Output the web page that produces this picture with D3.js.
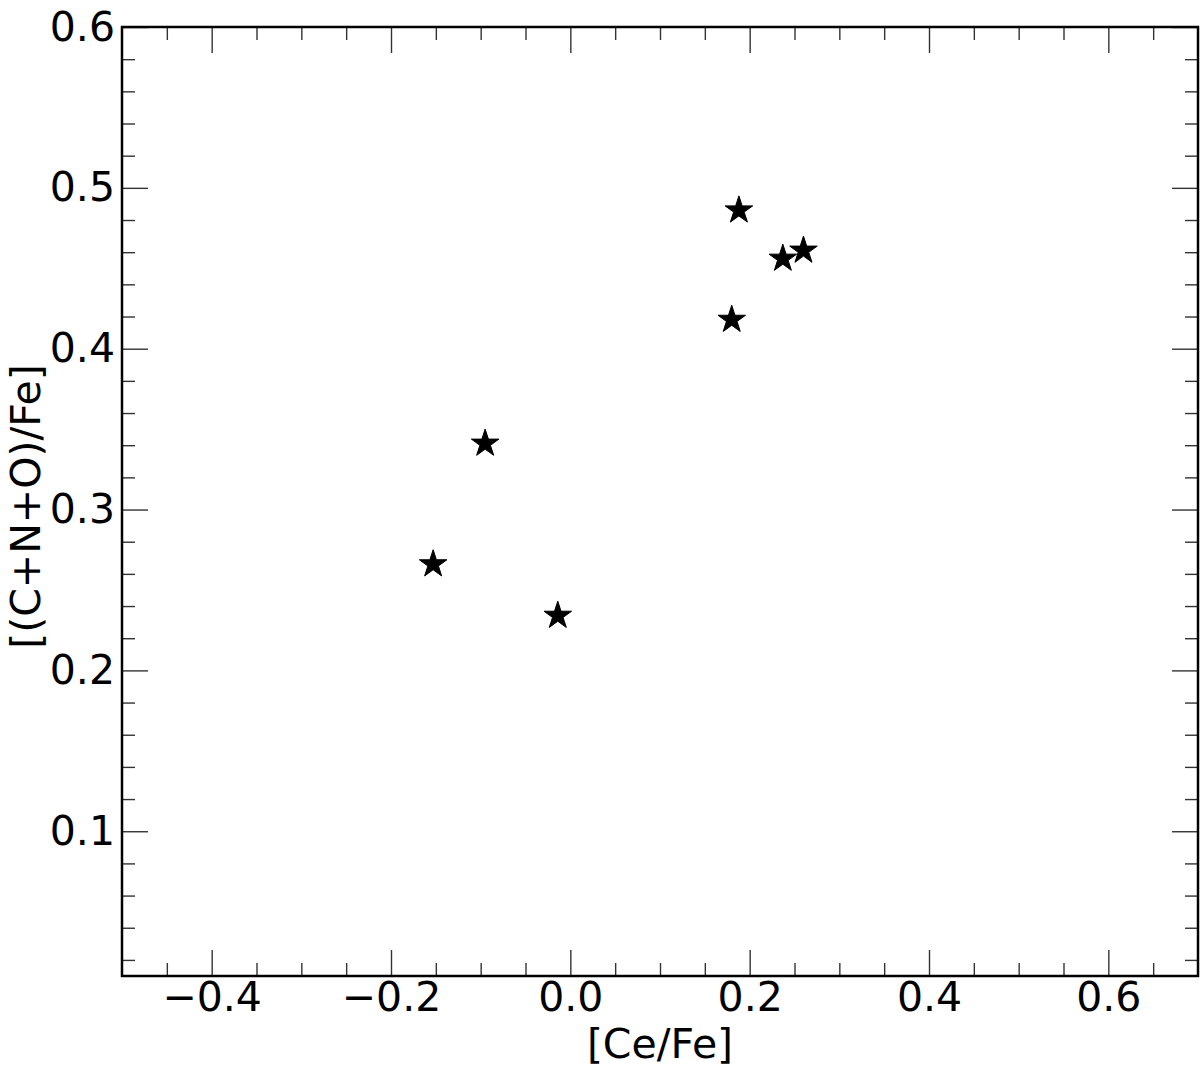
<!DOCTYPE html>
<html>
<head>
<meta charset="utf-8">
<script src="https://cdn.jsdelivr.net/npm/d3@7"></script>
<style>
  html, body { margin: 0; padding: 0; background: #fff; }
  svg { display: block; }
  text { font-family: "DejaVu Sans", sans-serif; fill: #000; }
</style>
</head>
<body>
<svg id="chart" width="1200" height="1071"></svg>
<script>
// ---- data ----
const ceFe  = [0.188, 0.237, 0.260, 0.180, -0.095, -0.153, -0.014];
const cnoFe = [0.486, 0.456, 0.461, 0.418, 0.341, 0.266, 0.234];

const xMajorTicks = [-0.4, -0.2, 0.0, 0.2, 0.4, 0.6];
const xMinorTicks = [-0.45, -0.35, -0.3, -0.25, -0.15, -0.1, -0.05, 0.05, 0.1, 0.15, 0.25, 0.3, 0.35, 0.45, 0.5, 0.55, 0.65];
const yMajorTicks = [0.1, 0.2, 0.3, 0.4, 0.5, 0.6];
const yMinorTicks = [0.02, 0.04, 0.06, 0.08, 0.12, 0.14, 0.16, 0.18, 0.22, 0.24, 0.26, 0.28, 0.32, 0.34, 0.36, 0.38, 0.42, 0.44, 0.46, 0.48, 0.52, 0.54, 0.56, 0.58];

const xLabel = "[Ce/Fe]";
const yLabel = "[(C+N+O)/Fe]";

(function () {
// ---- layout ----
const pLeft = 122, pRight = 1198, pTop = 27, pBottom = 976;
const fontSize = 41;
const majorLen = 26, minorLen = 13;

const svg = d3.select("#chart");
const x = d3.scaleLinear().domain([-0.5, 0.7]).range([pLeft, pRight]);
const y = d3.scaleLinear().domain([0.01, 0.6]).range([pBottom, pTop]);
const fmt = d3.format(".1f");

function styleAxis(g) {
  g.select(".domain").remove();
  g.selectAll(".tick line").attr("stroke", "#333").attr("stroke-width", 1.4);
  g.selectAll(".tick text").style("font-size", fontSize + "px").attr("fill", "#000");
}

// bottom
svg.append("g").attr("transform", `translate(0,${pBottom})`)
  .call(d3.axisBottom(x).tickValues(xMajorTicks).tickFormat(fmt).tickSizeInner(-majorLen).tickSizeOuter(0).tickPadding(6))
  .call(styleAxis);
svg.append("g").attr("transform", `translate(0,${pBottom})`)
  .call(d3.axisBottom(x).tickValues(xMinorTicks).tickFormat("").tickSizeInner(-minorLen).tickSizeOuter(0))
  .call(styleAxis);
// top
svg.append("g").attr("transform", `translate(0,${pTop})`)
  .call(d3.axisTop(x).tickValues(xMajorTicks).tickFormat("").tickSizeInner(-majorLen).tickSizeOuter(0))
  .call(styleAxis);
svg.append("g").attr("transform", `translate(0,${pTop})`)
  .call(d3.axisTop(x).tickValues(xMinorTicks).tickFormat("").tickSizeInner(-minorLen).tickSizeOuter(0))
  .call(styleAxis);
// left
svg.append("g").attr("transform", `translate(${pLeft},0)`)
  .call(d3.axisLeft(y).tickValues(yMajorTicks).tickFormat(fmt).tickSizeInner(-majorLen).tickSizeOuter(0).tickPadding(7))
  .call(styleAxis);
svg.append("g").attr("transform", `translate(${pLeft},0)`)
  .call(d3.axisLeft(y).tickValues(yMinorTicks).tickFormat("").tickSizeInner(-minorLen).tickSizeOuter(0))
  .call(styleAxis);
// right
svg.append("g").attr("transform", `translate(${pRight},0)`)
  .call(d3.axisRight(y).tickValues(yMajorTicks).tickFormat("").tickSizeInner(-majorLen).tickSizeOuter(0))
  .call(styleAxis);
svg.append("g").attr("transform", `translate(${pRight},0)`)
  .call(d3.axisRight(y).tickValues(yMinorTicks).tickFormat("").tickSizeInner(-minorLen).tickSizeOuter(0))
  .call(styleAxis);

// frame
svg.append("rect")
  .attr("x", pLeft).attr("y", pTop)
  .attr("width", pRight - pLeft).attr("height", pBottom - pTop)
  .attr("fill", "none").attr("stroke", "#000").attr("stroke-width", 2.5);

// star markers (matplotlib '*')
function starPath(r) {
  const inner = r * 0.381966;
  const pts = [];
  for (let i = 0; i < 10; i++) {
    const rad = i % 2 === 0 ? r : inner;
    const a = -Math.PI / 2 + i * Math.PI / 5;
    pts.push([rad * Math.cos(a), rad * Math.sin(a)]);
  }
  return "M" + pts.map(p => p[0].toFixed(2) + "," + p[1].toFixed(2)).join("L") + "Z";
}
const pts = ceFe.map((v, i) => ({ x: v, y: cnoFe[i] }));
svg.append("g").selectAll("path")
  .data(pts).enter().append("path")
  .attr("d", starPath(14.5))
  .attr("transform", d => `translate(${x(d.x)},${y(d.y)})`)
  .attr("fill", "#000").attr("stroke", "#000").attr("stroke-width", 1);

// axis labels
svg.append("text")
  .attr("x", (pLeft + pRight) / 2).attr("y", 1058)
  .attr("text-anchor", "middle")
  .style("font-size", fontSize + "px")
  .text(xLabel);
svg.append("text")
  .attr("transform", `translate(40,${(pTop + pBottom) / 2 + 5}) rotate(-90)`)
  .attr("text-anchor", "middle")
  .style("font-size", fontSize + "px")
  .text(yLabel);
})();
</script>
</body>
</html>
